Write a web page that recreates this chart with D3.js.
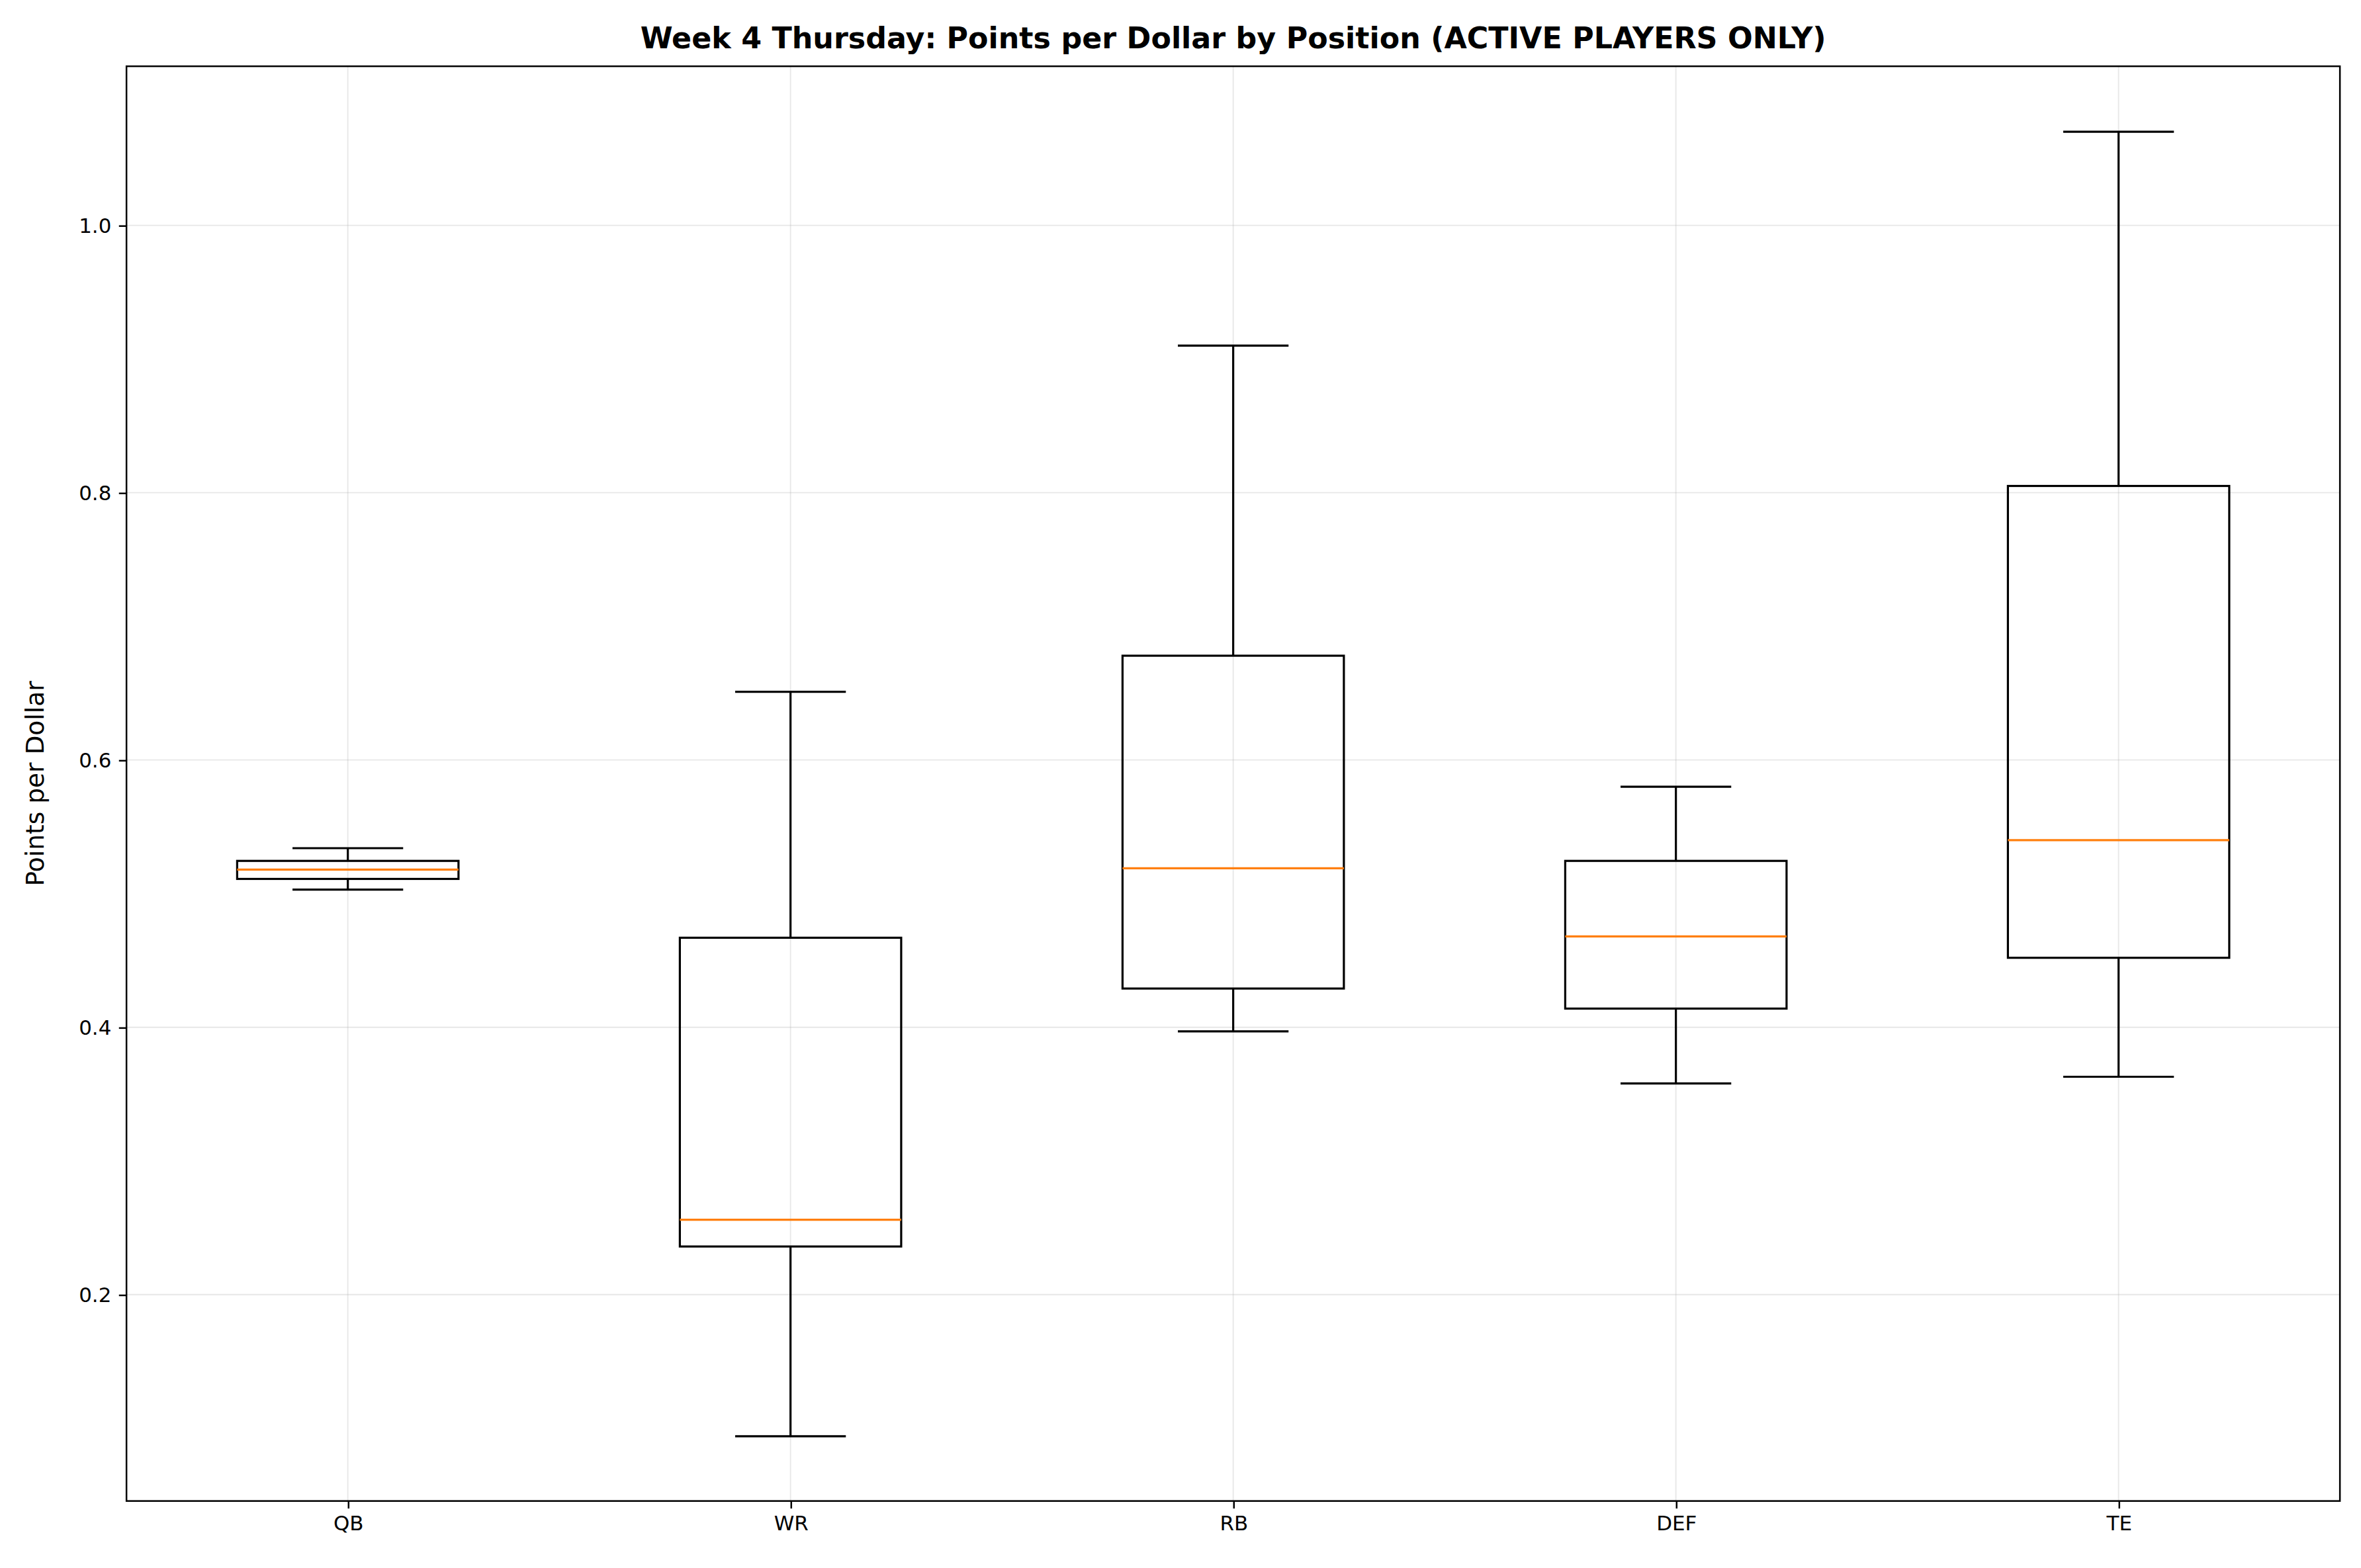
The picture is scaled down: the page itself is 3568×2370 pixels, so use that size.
<!DOCTYPE html>
<html><head><meta charset="utf-8">
<script src="https://cdn.jsdelivr.net/npm/d3@7"></script>
<style>body{margin:0;background:#fff}svg{display:block;font-family:"DejaVu Sans",sans-serif}</style>
</head><body>
<svg id="chart" width="3568" height="2370" viewBox="0 0 1568 1041.5"></svg>
<script>
var positions = ["QB", "WR", "RB", "DEF", "TE"];
var whiskerLow  = [0.503, 0.094, 0.397, 0.358, 0.363];
var quartile1   = [0.511, 0.236, 0.429, 0.414, 0.452];
var medians     = [0.518, 0.256, 0.519, 0.468, 0.540];
var quartile3   = [0.5245, 0.467, 0.678, 0.5245, 0.805];
var whiskerHigh = [0.534, 0.651, 0.910, 0.580, 1.070];
var yTicks = [0.2, 0.4, 0.6, 0.8, 1.0];

(function() {
var svg = d3.select("#chart");
var pLeft = 84, pRight = 1554, pTop = 44, pBottom = 997;

var x = d3.scalePoint().domain(positions).range([pLeft, pRight]).padding(0.5);
var y = d3.scaleLinear().domain([0.0456, 1.119]).range([pBottom, pTop]);
var step = x.step();

// grid
svg.append("g").selectAll("line").data(yTicks).join("line")
    .attr("x1", pLeft).attr("x2", pRight)
    .attr("y1", function(d) { return y(d); }).attr("y2", function(d) { return y(d); })
    .attr("stroke", "#b0b0b0").attr("stroke-opacity", 0.3).attr("stroke-width", 0.8);
svg.append("g").selectAll("line").data(positions).join("line")
    .attr("y1", pTop).attr("y2", pBottom)
    .attr("x1", function(d) { return x(d); }).attr("x2", function(d) { return x(d); })
    .attr("stroke", "#b0b0b0").attr("stroke-opacity", 0.3).attr("stroke-width", 0.8);

var boxes = positions.map(function(p, i) {
    return { p: p, lo: whiskerLow[i], q1: quartile1[i], med: medians[i], q3: quartile3[i], hi: whiskerHigh[i] };
});

var g = svg.append("g").selectAll("g").data(boxes).join("g");
var boxW = step * 0.5, capW = step * 0.25;
g.append("line").attr("x1", function(d) { return x(d.p); }).attr("x2", function(d) { return x(d.p); })
    .attr("y1", function(d) { return y(d.q3); }).attr("y2", function(d) { return y(d.hi); })
    .attr("stroke", "#000").attr("stroke-width", 1.4);
g.append("line").attr("x1", function(d) { return x(d.p); }).attr("x2", function(d) { return x(d.p); })
    .attr("y1", function(d) { return y(d.q1); }).attr("y2", function(d) { return y(d.lo); })
    .attr("stroke", "#000").attr("stroke-width", 1.4);
["hi", "lo"].forEach(function(k) {
    g.append("line").attr("x1", function(d) { return x(d.p) - capW / 2; }).attr("x2", function(d) { return x(d.p) + capW / 2; })
        .attr("y1", function(d) { return y(d[k]); }).attr("y2", function(d) { return y(d[k]); })
        .attr("stroke", "#000").attr("stroke-width", 1.4);
});
g.append("rect").attr("x", function(d) { return x(d.p) - boxW / 2; }).attr("width", boxW)
    .attr("y", function(d) { return y(d.q3); }).attr("height", function(d) { return y(d.q1) - y(d.q3); })
    .attr("fill", "none").attr("stroke", "#000").attr("stroke-width", 1.4);
g.append("line").attr("x1", function(d) { return x(d.p) - boxW / 2; }).attr("x2", function(d) { return x(d.p) + boxW / 2; })
    .attr("y1", function(d) { return y(d.med); }).attr("y2", function(d) { return y(d.med); })
    .attr("stroke", "#ff7f0e").attr("stroke-width", 1.4);

// axes
var xa = svg.append("g").attr("transform", "translate(0," + pBottom + ")")
    .call(d3.axisBottom(x).tickSize(5).tickPadding(5));
var ya = svg.append("g").attr("transform", "translate(" + pLeft + ",0)")
    .call(d3.axisLeft(y).tickValues(yTicks).tickFormat(d3.format(".1f")).tickSize(5).tickPadding(5));
[xa, ya].forEach(function(a) {
    a.select(".domain").remove();
    a.selectAll("text").attr("font-size", 13.6).attr("fill", "#000").attr("font-family", "DejaVu Sans");
    a.selectAll("line").attr("stroke", "#000").attr("stroke-width", 1.1);
});
svg.append("rect").attr("x", pLeft).attr("y", pTop).attr("width", pRight - pLeft).attr("height", pBottom - pTop)
    .attr("fill", "none").attr("stroke", "#000").attr("stroke-width", 1.1);

svg.append("text").attr("x", (pLeft + pRight) / 2).attr("y", 32).attr("text-anchor", "middle")
    .attr("font-size", 19.5).attr("font-weight", "bold")
    .text("Week 4 Thursday: Points per Dollar by Position (ACTIVE PLAYERS ONLY)");
svg.append("text").attr("transform", "translate(29," + (pTop + pBottom) / 2 + ") rotate(-90)")
    .attr("text-anchor", "middle").attr("font-size", 16.5).text("Points per Dollar");
})();
</script>
</body></html>
